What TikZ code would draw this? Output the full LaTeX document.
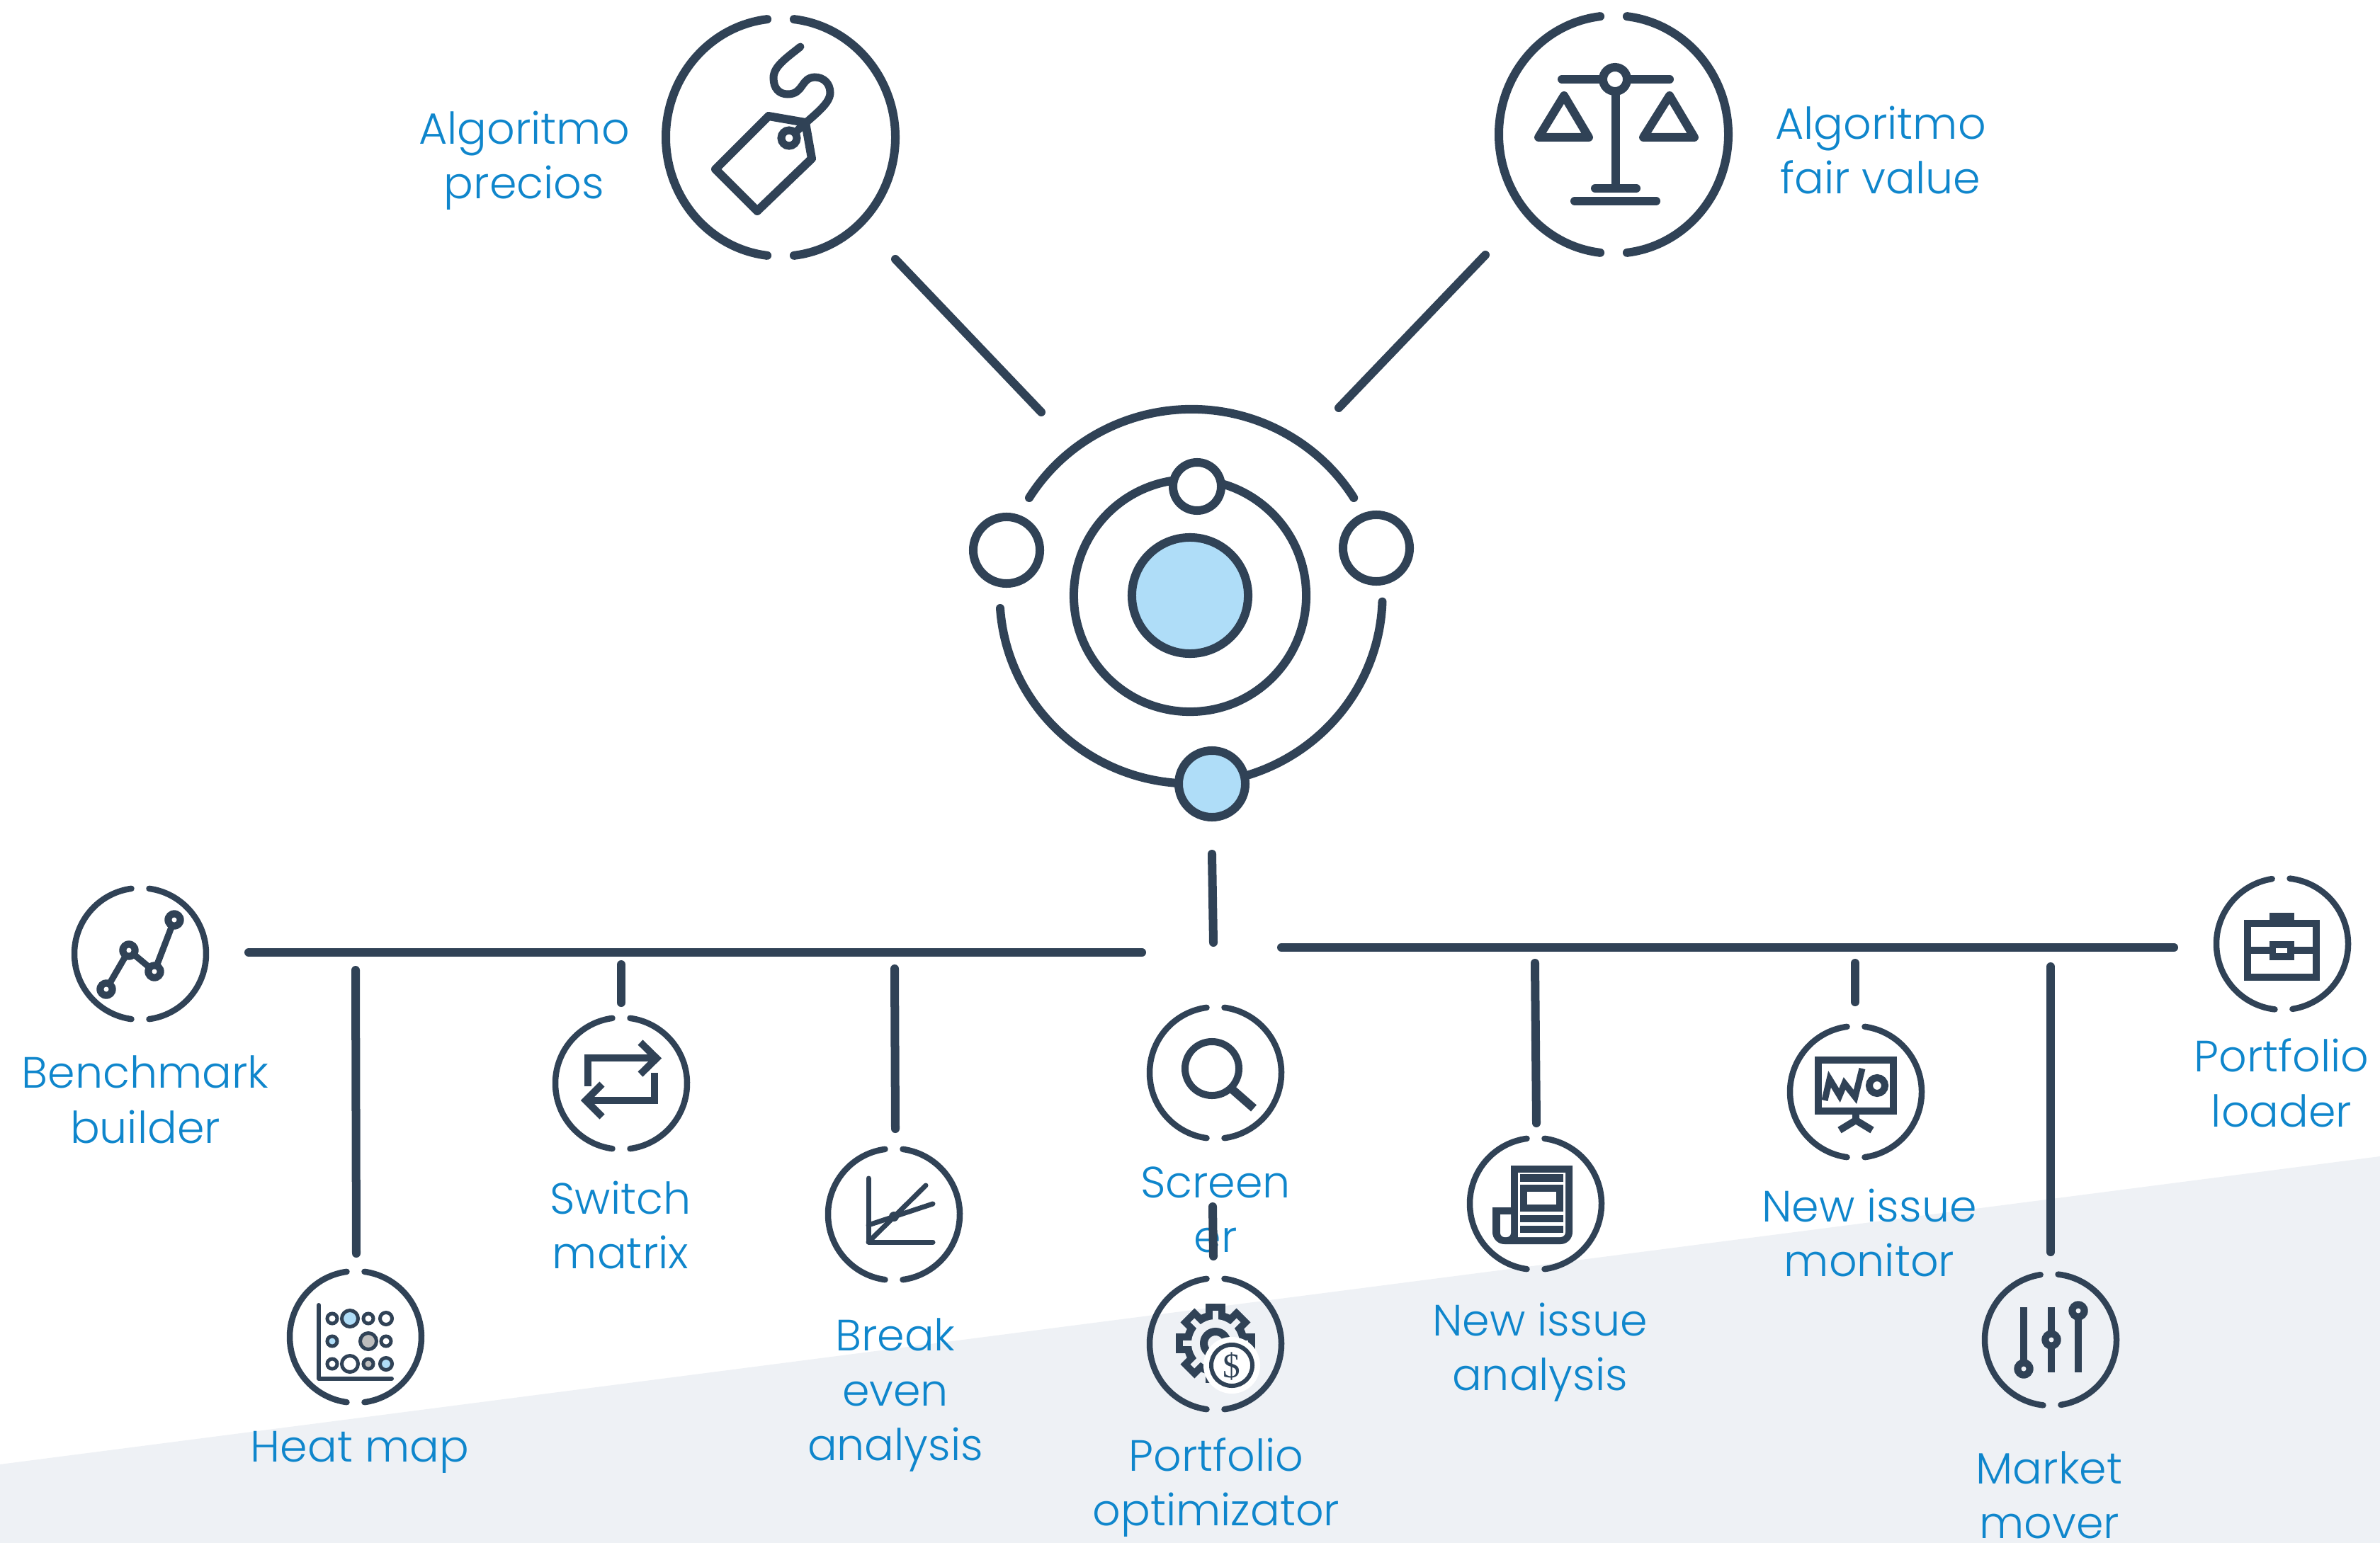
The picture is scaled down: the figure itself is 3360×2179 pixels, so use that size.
\documentclass[tikz,border=0pt]{standalone}
\usepackage{fontspec}
\setmainfont{Poppins Light}
\newfontfamily\dollarfont{Liberation Serif}
\definecolor{dk}{HTML}{304256}
\definecolor{lb}{HTML}{AFDDF8}
\definecolor{tx}{HTML}{0F86CC}
\definecolor{bgg}{HTML}{EEF1F5}
\definecolor{gy}{HTML}{BDBDBD}
\tikzset{
  conn/.style={draw=dk,line width=0.12cm,line cap=round},
  bigring/.style={draw=dk,line width=0.12cm,line cap=round},
  smallring/.style={draw=dk,line width=0.085cm,line cap=round},
  lbl/.style={text=tx,align=center,inner sep=0pt,anchor=base,font=\fontsize{17.6}{21.9}\selectfont},
  orbit/.style={draw=dk,line width=0.12cm,fill=white},
  orbitblue/.style={draw=dk,line width=0.12cm,fill=lb},
  glyphround/.style={draw=dk,line width=0.12cm,line cap=round,line join=round},
  glyphbutt/.style={draw=dk,line width=0.10cm,line cap=butt,line join=miter,miter limit=10},
  thin/.style={draw=dk,line width=0.07cm,line cap=round,line join=round},
  dot/.style={draw=dk,line width=0.05cm},
  hub/.style={inner sep=0pt,minimum size=1pt},
}
% cx cy rx ry halfgap tilt
\newcommand{\iconring}[7]{%
  \pgfmathsetmacro\rsa{90+#6-#5}\pgfmathsetmacro\rea{-90+#6+#5}%
  \pgfmathsetmacro\lsa{90+#6+#5}\pgfmathsetmacro\lea{270+#6-#5}%
  \draw[#7] ({#1+#3*cos(\rsa)},{#2-#4*sin(\rsa)}) arc[start angle=\rsa,end angle=\rea,x radius=#3*0.01cm,y radius=#4*0.01cm];
  \draw[#7] ({#1+#3*cos(\lsa)},{#2-#4*sin(\lsa)}) arc[start angle=\lsa,end angle=\lea,x radius=#3*0.01cm,y radius=#4*0.01cm];
}
% x y holefill
\newcommand{\knobdot}[3]{%
  \fill[dk] (#1,#2) circle[radius=0.137cm];
  \fill[#3] (#1,#2) circle[radius=0.035cm];
}
\begin{document}
\begin{tikzpicture}[x=0.01cm,y=-0.01cm]
\useasboundingbox (0,0) rectangle (3360,2179);
\fill[white] (0,0) rectangle (3360,2179);
\fill[bgg] (0,2068) -- (3360,1633) -- (3360,2179) -- (0,2179) -- cycle;

% hubs
\node[hub] (sun) at (1680,841) {};
\node[hub] (tag) at (1102,194) {};
\node[hub] (scale) at (2278,190) {};
\node[hub] (bench) at (198,1347) {};
\node[hub] (heat) at (502,1888) {};
\node[hub] (switch) at (877,1530) {};
\node[hub] (breakev) at (1262,1715) {};
\node[hub] (screen) at (1716,1515) {};
\node[hub] (optim) at (1716,1898) {};
\node[hub] (newsan) at (2168,1700) {};
\node[hub] (newsmon) at (2620,1542) {};
\node[hub] (market) at (2895,1892) {};
\node[hub] (loader) at (3222,1333) {};

% connector ends
\coordinate (tagEnd) at (1264,366);
\coordinate (sunTagEnd) at (1470,582);
\coordinate (scaleEnd) at (2097,360);
\coordinate (sunScaleEnd) at (1890,576);
\coordinate (sunDown) at (1711,1206);
\coordinate (busJoint) at (1713,1331);
\coordinate (busLA) at (351,1345);
\coordinate (busLB) at (1612,1345);
\coordinate (busRA) at (1809,1338);
\coordinate (busRB) at (3069,1338);
\coordinate (heatTop) at (502,1370);
\coordinate (heatEnd) at (503,1770);
\coordinate (switchTop) at (877,1362);
\coordinate (switchEnd) at (877,1416);
\coordinate (breakTop) at (1263,1368);
\coordinate (breakEnd) at (1264,1594);
\coordinate (optimTop) at (1712,1704);
\coordinate (optimEnd) at (1713,1774);
\coordinate (newsanTop) at (2167,1360);
\coordinate (newsanEnd) at (2169,1586);
\coordinate (newsmonTop) at (2619,1360);
\coordinate (newsmonEnd) at (2619,1415);
\coordinate (marketTop) at (2895,1365);
\coordinate (marketEnd) at (2895,1768);

% labels (before connectors: the connector runs over "er")
\node[lbl] (lAlgoP) at (740,281) {Algoritmo\\precios};
\node[lbl] (lAlgoF) at (2655,274) {Algoritmo\\fair value};
\node[lbl] (lBench) at (205,1614) {Benchmark\\builder};
\node[lbl] (lSwitch) at (876,1791) {Switch\\matrix};
\node[lbl] (lHeat) at (508,2064) {Heat map};
\node[lbl] (lBreak) at (1264,2062) {Break\\even\\analysis};
\node[lbl] (lScreen) at (1716,1768) {Screen\\er};
\node[lbl] (lOptim) at (1717,2154) {Portfolio\\optimizator};
\node[lbl] (lNewsAn) at (2174,1963) {New issue\\analysis};
\node[lbl] (lNewsMon) at (2639,1802) {New issue\\monitor};
\node[lbl] (lMarket) at (2893,2172) {Market\\mover};
\node[lbl] (lLoader) at (3221,1591) {Portfolio\\loader};

% connectors
\draw[conn] (tagEnd) -- (sunTagEnd);
\draw[conn] (scaleEnd) -- (sunScaleEnd);
\draw[conn] (sunDown) -- (busJoint);
\draw[conn] (busLA) -- (busLB);
\draw[conn] (busRA) -- (busRB);
\draw[conn] (heatTop) -- (heatEnd);
\draw[conn] (switchTop) -- (switchEnd);
\draw[conn] (breakTop) -- (breakEnd);
\draw[conn] (optimTop) -- (optimEnd);
\draw[conn] (newsanTop) -- (newsanEnd);
\draw[conn] (newsmonTop) -- (newsmonEnd);
\draw[conn] (marketTop) -- (marketEnd);

% centre figure
\draw[bigring] (1453,703) arc[start angle=148,end angle=32,x radius=2.70cm,y radius=2.66cm];
\draw[bigring] (1412,859) arc[start angle=184,end angle=358,x radius=2.70cm,y radius=2.66cm];
\draw[draw=dk,line width=0.12cm] (sun) circle[radius=1.64cm];
\draw[orbitblue] (sun) circle[radius=0.82cm];
\node[hub] (pLeft) at (1421,777) {};
\node[hub] (pRight) at (1943,774) {};
\node[hub] (pTop) at (1690,687) {};
\node[hub] (pBottom) at (1711,1107) {};
\draw[orbit] (pLeft) circle[radius=0.47cm];
\draw[orbit] (pRight) circle[radius=0.47cm];
\draw[orbit] (pTop) circle[radius=0.34cm];
\draw[orbitblue] (pBottom) circle[radius=0.47cm];

% tag icon
\iconring{1102}{194}{162}{168}{6.7}{0}{bigring}
\draw[glyphround] (1085,164) -- (1137,173) -- (1146,224) -- (1069,298) -- (1010,239) -- cycle;
\draw[draw=dk,line width=0.11cm] (1114,195) circle[radius=0.11cm];
\draw[draw=dk,line width=0.11cm,line cap=round]
  (1130,66) .. controls (1110,82) and (1092,94) .. (1092,110)
  .. controls (1092,125) and (1100,133) .. (1112,133)
  .. controls (1135,133) and (1130,110) .. (1150,109)
  .. controls (1163,109) and (1172,118) .. (1172,131)
  .. controls (1172,148) and (1145,165) .. (1123,187);

% scale icon
\iconring{2278}{190}{162}{168}{6.7}{0}{bigring}
\draw[glyphround] (2205,112) -- (2357,112);
\draw[glyphround] (2281,112) -- (2281,266);
\draw[draw=dk,line width=0.12cm,fill=white] (2280,112) circle[radius=0.17cm];
\draw[glyphround] (2252,266) -- (2310,266);
\draw[glyphround] (2223,284) -- (2338,284);
\draw[glyphround] (2208,135) -- (2243,194) -- (2172,194) -- cycle;
\draw[glyphround] (2357,135) -- (2392,194) -- (2320,194) -- cycle;

% benchmark icon
\iconring{198}{1347}{93}{93}{7.7}{0}{smallring}
\draw[draw=dk,line width=0.09cm,line join=round] (150,1397) -- (182,1342) -- (218,1372) -- (246,1299);
\knobdot{150}{1397}{white}
\knobdot{182}{1342}{white}
\knobdot{218}{1372}{white}
\knobdot{246}{1299}{white}

% heat map icon
\iconring{502}{1888}{93}{93}{7.7}{0}{smallring}
\draw[draw=dk,line width=0.06cm,line cap=round,line join=round] (450,1843) -- (450,1947) -- (553,1947);
\draw[dot,fill=white] (469,1862) circle[radius=0.07cm];
\draw[dot,fill=lb] (494,1862) circle[radius=0.115cm];
\draw[dot,fill=white] (520,1862) circle[radius=0.07cm];
\draw[dot,fill=white] (545,1862) circle[radius=0.085cm];
\draw[dot,fill=lb] (469,1894) circle[radius=0.07cm];
\draw[dot,fill=gy] (520,1894) circle[radius=0.115cm];
\draw[dot,fill=white] (545,1894) circle[radius=0.07cm];
\draw[dot,fill=white] (469,1926) circle[radius=0.07cm];
\draw[dot,fill=white] (494,1926) circle[radius=0.115cm];
\draw[dot,fill=gy] (520,1926) circle[radius=0.07cm];
\draw[dot,fill=lb] (545,1926) circle[radius=0.085cm];

% switch icon
\iconring{877}{1530}{93}{93}{7.7}{0}{smallring}
\draw[glyphbutt] (830,1534) -- (830,1494) -- (926,1494);
\draw[glyphbutt] (904,1472) -- (927,1494.5) -- (904,1517);
\draw[glyphbutt] (924,1515) -- (924,1554) -- (828,1554);
\draw[glyphbutt] (850,1531) -- (827,1554) -- (850,1577);

% break-even icon
\iconring{1262}{1715}{93}{93}{7.7}{0}{smallring}
\draw[thin] (1226,1664) -- (1226,1754) -- (1317,1754);
\draw[thin] (1226,1754) -- (1307,1674);
\draw[thin] (1226,1730) -- (1317,1700);
\fill[dk] (1262,1718) circle[radius=0.07cm];

% screener icon
\iconring{1716}{1515}{93}{93}{7.7}{0}{smallring}
\draw[draw=dk,line width=0.10cm] (1711,1509) circle[radius=0.38cm];
\draw[draw=dk,line width=0.12cm] (1738,1537) -- (1770,1565);

% optimizer icon
\iconring{1716}{1898}{93}{93}{7.7}{0}{smallring}
\begin{scope}[shift={(1716,1897)}]
  \foreach \ang in {0,45,...,315}{
    \begin{scope}[rotate=\ang]
      \fill[dk] (-14,-56) rectangle (14,-30);
    \end{scope}
  }
  \fill[dk] (0,0) circle[radius=0.45cm];
  \foreach \ang in {0,45,...,315}{
    \begin{scope}[rotate=\ang]
      \fill[bgg] (-4,-46) rectangle (4,-30);
    \end{scope}
  }
  \fill[bgg] (0,0) circle[radius=0.34cm];
  \draw[draw=dk,line width=0.11cm] (0,0) circle[radius=0.165cm];
\end{scope}
\fill[white] (1739,1928) circle[radius=0.40cm];
\draw[draw=dk,line width=0.06cm] (1739,1928) circle[radius=0.29cm];
\node[text=dk,inner sep=0pt,font=\dollarfont\fontsize{14}{14}\selectfont] (dollar) at (1739,1930) {\$};

% newspaper icon
\iconring{2168}{1700}{93}{93}{7.7}{0}{smallring}
\fill[dk] (2133,1646) -- (2220,1646) -- (2220,1740) arc[start angle=0,end angle=-90,radius=0.17cm] -- (2124,1757) arc[start angle=270,end angle=180,radius=0.17cm] -- (2107,1705) -- (2133,1705) -- cycle;
\fill[white] (2143,1656) -- (2210,1656) -- (2210,1740) arc[start angle=0,end angle=-90,radius=0.07cm] -- (2143,1747) -- cycle;
\fill[dk] (2146,1658) rectangle (2207,1669);
\fill[dk] (2146,1673) rectangle (2207,1711);
\fill[white] (2156,1683) rectangle (2197,1701);
\fill[dk] (2146,1716) rectangle (2207,1726);
\fill[dk] (2146,1731) rectangle (2207,1741);
\fill[white] (2118,1715) -- (2133,1715) -- (2133,1741) arc[start angle=0,end angle=-90,radius=0.06cm] -- (2124,1747) arc[start angle=270,end angle=180,radius=0.06cm] -- cycle;

% monitor icon
\iconring{2620}{1542}{93}{93}{7.7}{0}{smallring}
\draw[glyphbutt] (2567,1497) rectangle (2673,1569);
\draw[glyphbutt] (2620,1574) -- (2620,1585);
\draw[glyphbutt] (2597,1596) -- (2620,1582) -- (2643,1596);
\draw[draw=dk,line width=0.09cm,line join=miter,miter limit=10] (2576,1554) -- (2583,1524) -- (2597,1547) -- (2604,1530) -- (2619,1549) -- (2629,1509);
\draw[draw=dk,line width=0.10cm] (2650,1533) circle[radius=0.11cm];

% market mover icon
\iconring{2895}{1892}{93}{93}{7.7}{1.2}{smallring}
\draw[glyphbutt] (2857,1846) -- (2857,1933);
\draw[glyphbutt] (2896,1846) -- (2896,1938);
\draw[glyphbutt] (2934,1851) -- (2934,1938);
\knobdot{2857}{1933}{bgg}
\knobdot{2896}{1892}{bgg}
\knobdot{2934}{1851}{bgg}

% briefcase icon
\iconring{3222}{1333}{93}{93}{7.7}{1.2}{smallring}
\fill[dk] (3204,1289) rectangle (3239,1301);
\draw[glyphbutt] (3173,1304) rectangle (3270,1380);
\draw[glyphbutt] (3173,1342) -- (3270,1342);
\fill[dk] (3204,1329) rectangle (3239,1356);
\fill[white] (3213,1339) rectangle (3229,1346);
\end{tikzpicture}
\end{document}
